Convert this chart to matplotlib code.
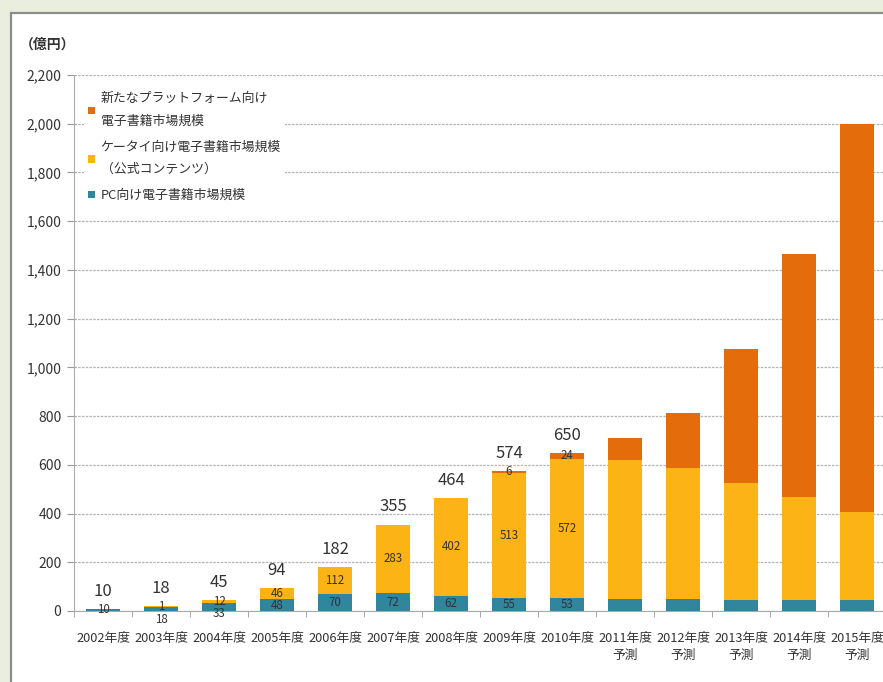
import matplotlib
matplotlib.use("Agg")
import matplotlib.pyplot as plt
from matplotlib.patches import Rectangle
import numpy as np

plt.rcParams['font.family'] = ['Noto Sans CJK JP', 'DejaVu Sans']

# ---- data ----
categories = ["2002年度", "2003年度", "2004年度", "2005年度", "2006年度", "2007年度",
              "2008年度", "2009年度", "2010年度", "2011年度\n予測", "2012年度\n予測",
              "2013年度\n予測", "2014年度\n予測", "2015年度\n予測"]
pc_values = [10, 18, 33, 48, 70, 72, 62, 55, 53, 49, 49, 45, 45, 45]
mobile_values = [0, 1, 12, 46, 112, 283, 402, 513, 572, 571, 539, 482, 424, 360]
newplat_values = [0, 0, 0, 0, 0, 0, 0, 6, 24, 89, 223, 548, 996, 1593]
total_labels = ["10", "18", "45", "94", "182", "355", "464", "574", "650",
                None, None, None, None, None]
n_labelled = 9  # historical years carry value labels

series_names = ["新たなプラットフォーム向け\n電子書籍市場規模",
                "ケータイ向け電子書籍市場規模\n（公式コンテンツ）",
                "PC向け電子書籍市場規模"]
yticks = [0, 200, 400, 600, 800, 1000, 1200, 1400, 1600, 1800, 2000, 2200]

# ---- style ----
c_new = "#E46C0A"
c_mob = "#FCB316"
c_pc = "#31859C"
txt = "#333333"

W, H = 883, 682
fig = plt.figure(figsize=(W / 100, H / 100), dpi=100, facecolor="#EAEEDF")
fig.patches.append(Rectangle((11 / W, -0.1), 1.1, (H - 13) / H + 0.1,
                             transform=fig.transFigure, facecolor="white",
                             edgecolor="#8C8C8C", linewidth=1.6, zorder=-10))

ax = fig.add_axes([74 / W, (H - 611) / H, (886 - 74) / W, (611 - 75) / H])
ax.set_facecolor("none")

x = np.arange(len(categories))
pc = np.array(pc_values, dtype=float)
mob = np.array(mobile_values, dtype=float)
new = np.array(newplat_values, dtype=float)
bw = 0.6
b_pc = ax.bar(x, pc, bw, color=c_pc, zorder=3, label=series_names[2])
b_mob = ax.bar(x, mob, bw, bottom=pc, color=c_mob, zorder=3, label=series_names[1])
b_new = ax.bar(x, new, bw, bottom=pc + mob, color=c_new, zorder=3, label=series_names[0])

ax.set_xlim(-0.5, len(categories) - 0.5)
ax.set_ylim(0, 2200)
ax.set_yticks(yticks)
ax.set_yticklabels([f"{v:,}" for v in yticks], fontsize=10, color=txt)
ax.set_xticks(x)
ax.set_xticklabels(categories, fontsize=9.2, color=txt, linespacing=1.4)
ax.set_xticks(np.arange(len(categories) + 1) - 0.5, minor=True)
ax.tick_params(axis="x", which="major", length=0, pad=15)
ax.tick_params(axis="x", which="minor", length=4, color="#999999", direction="out")
ax.tick_params(axis="y", length=5, color="#999999", pad=4)

ax.grid(axis="y", color="#B4B4B4", linestyle=(0, (2, 1)), linewidth=0.9, zorder=1)
for s in ["top", "right"]:
    ax.spines[s].set_visible(False)
ax.spines["left"].set_color("#AAAAAA")
ax.spines["bottom"].set_color("#AAAAAA")

# segment value labels
below_axis = {1: -8, 2: -5}  # tiny PC segments pushed below the baseline (points)
for i in range(n_labelled):
    dy = below_axis.get(i, 0)
    ax.annotate(str(pc_values[i]), (x[i], pc[i] / 2), xytext=(0, dy),
                textcoords="offset points", ha="center", va="center",
                fontsize=8.3, color=txt, zorder=5)
    if mob[i] > 0:
        ax.annotate(str(mobile_values[i]), (x[i], pc[i] + mob[i] / 2),
                    ha="center", va="center", fontsize=8.3, color=txt, zorder=5)
    if new[i] > 0:
        ax.annotate(str(newplat_values[i]), (x[i], pc[i] + mob[i] + new[i] / 2),
                    ha="center", va="center", fontsize=8.3, color=txt, zorder=5)
    ax.annotate(total_labels[i], (x[i], pc[i] + mob[i] + new[i]), xytext=(0, 6.5),
                textcoords="offset points", ha="center", va="bottom",
                fontsize=12, color=txt, zorder=5)

handles = [b_new, b_mob, b_pc]
leg = ax.legend(handles, series_names, loc="upper left", bbox_to_anchor=(0.012, 0.975),
                frameon=True, facecolor="white", edgecolor="none", framealpha=1,
                fontsize=9.3, handlelength=0.55, handleheight=0.55, handletextpad=0.45,
                labelspacing=1.0, borderpad=0.3, borderaxespad=0)
for t in leg.get_texts():
    t.set_color(txt)
    t.set_linespacing(1.95)
leg.set_zorder(4)

fig.text(20 / W, (H - 45) / H, "（億円）", fontsize=10, color=txt, ha="left",
         va="center", fontweight="bold")

fig.savefig("out.png", dpi=100, facecolor=fig.get_facecolor())
